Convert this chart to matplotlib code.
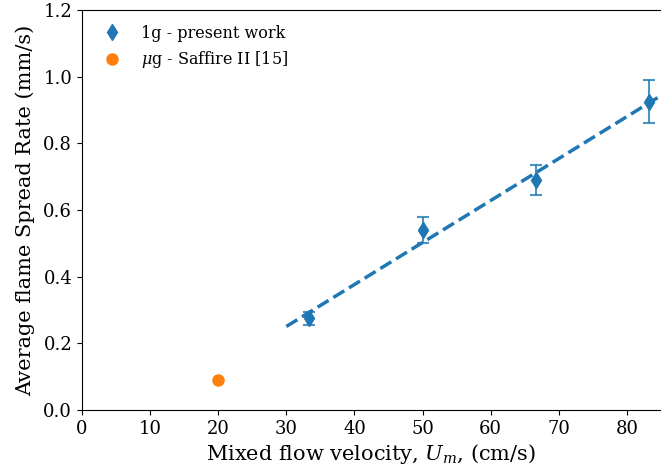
import numpy as np
import matplotlib.pyplot as plt

plt.rcParams['font.family'] = 'DejaVu Serif'
plt.rcParams['mathtext.fontset'] = 'dejavuserif'

# 1g - present work
u_m = [33.3, 50.0, 66.7, 83.3]
spread = [0.275, 0.54, 0.69, 0.925]
spread_err = [0.02, 0.04, 0.046, 0.064]

# microgravity - Saffire II
u_saffire = [20.0]
spread_saffire = [0.09]

slope, intercept = np.polyfit(u_m, spread, 1)
x_fit = np.linspace(30, 90, 50)

fig = plt.figure(figsize=(6.61, 4.71), dpi=100)
ax = fig.add_axes([0.124, 0.1295, 0.876, 0.849])

ax.errorbar(u_m, spread, yerr=spread_err, fmt='none', capsize=4,
            elinewidth=1.5, capthick=1.5, ecolor=(0.12, 0.47, 0.71, 0.8), zorder=3)
ax.plot(u_m, spread, 'd', color='#1f77b4', markersize=8,
        label='1g - present work', zorder=4)
ax.plot(u_saffire, spread_saffire, 'o', color='#ff7f0e', markersize=8,
        label=r'$\mu$g - Saffire II [15]')
ax.plot(x_fit, slope * x_fit + intercept, '--', color='#1f77b4', linewidth=2.5)

ax.set_xlim(0, 85)
ax.set_ylim(0, 1.2)
ax.set_xticks(np.arange(0, 81, 10))
ax.set_yticks(np.arange(0, 1.21, 0.2))
ax.spines['right'].set_visible(False)
ax.tick_params(labelsize=13)

ax.set_xlabel('Mixed flow velocity, $U_m$, (cm/s)', fontsize=15, labelpad=3)
ax.set_ylabel('Average flame Spread Rate (mm/s)', fontsize=15, labelpad=6)
ax.legend(loc='upper left', frameon=False, fontsize=11.5)

plt.savefig('out.png', dpi=100)
